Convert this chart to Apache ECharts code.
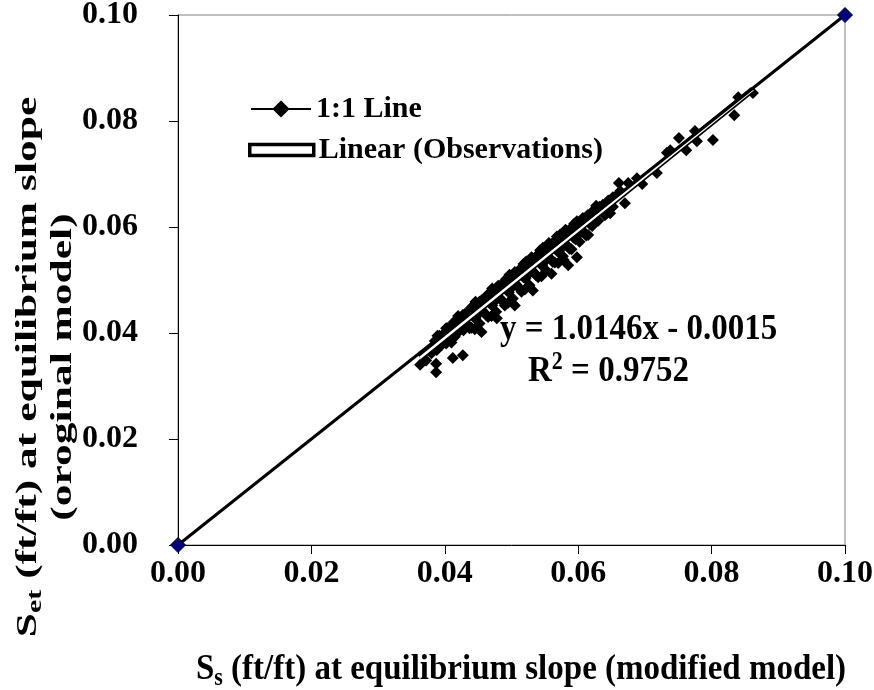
<!DOCTYPE html>
<html><head><meta charset="utf-8">
<script src="https://cdn.jsdelivr.net/npm/echarts@6/dist/echarts.min.js"></script>
<style>html,body{margin:0;padding:0;background:#fff}#c{width:874px;height:690px}</style>
</head><body><div id="c"></div>
<script>
// Observations: [S_s modified model, S_et original model]
const observations = [
  // upper band
  [0.0385,0.0385],[0.0392,0.0395],[0.0398,0.0398],[0.0405,0.0410],[0.0410,0.0412],[0.0417,0.0421],
  [0.0423,0.0424],[0.0430,0.0436],[0.0436,0.0438],[0.0442,0.0450],[0.0448,0.0452],[0.0455,0.0462],
  [0.0460,0.0465],[0.0467,0.0475],[0.0473,0.0477],[0.0480,0.0489],[0.0486,0.0490],[0.0492,0.0502],
  [0.0498,0.0503],[0.0505,0.0515],[0.0511,0.0516],[0.0518,0.0530],[0.0524,0.0530],[0.0530,0.0543],
  [0.0536,0.0543],[0.0543,0.0556],[0.0549,0.0557],[0.0556,0.0570],[0.0562,0.0569],[0.0568,0.0582],
  [0.0575,0.0584],[0.0581,0.0595],[0.0588,0.0596],[0.0594,0.0606],[0.0600,0.0608],[0.0607,0.0617],
  [0.0614,0.0620],[0.0620,0.0628],
  [0.0401,0.0401],[0.0414,0.0415],[0.0427,0.0428],[0.0439,0.0441],[0.0452,0.0453],[0.0464,0.0466],
  [0.0477,0.0479],[0.0489,0.0491],[0.0502,0.0504],[0.0514,0.0516],[0.0527,0.0529],[0.0540,0.0542],
  [0.0552,0.0554],[0.0565,0.0567],[0.0578,0.0580],[0.0591,0.0593],[0.0604,0.0605],[0.0617,0.0617],
  [0.0389,0.0395],[0.0402,0.0409],[0.0414,0.0421],[0.0427,0.0434],[0.0439,0.0447],[0.0452,0.0459],
  [0.0464,0.0472],[0.0477,0.0484],[0.0489,0.0497],[0.0502,0.0509],[0.0514,0.0522],[0.0527,0.0535],
  [0.0539,0.0547],[0.0552,0.0560],[0.0564,0.0573],[0.0577,0.0585],[0.0589,0.0597],[0.0602,0.0610],
  [0.0614,0.0622],
  [0.0420,0.0432],[0.0446,0.0459],[0.0471,0.0484],[0.0497,0.0510],[0.0522,0.0535],[0.0547,0.0561],
  [0.0573,0.0586],[0.0598,0.0611],
  // lower band
  [0.0392,0.0379],[0.0405,0.0392],[0.0418,0.0405],[0.0431,0.0418],[0.0443,0.0430],[0.0456,0.0443],
  [0.0468,0.0455],[0.0481,0.0468],[0.0493,0.0480],[0.0506,0.0493],[0.0518,0.0505],[0.0531,0.0518],
  [0.0543,0.0530],[0.0556,0.0543],[0.0568,0.0555],[0.0581,0.0568],[0.0593,0.0580],[0.0606,0.0593],
  [0.0618,0.0605],
  [0.0380,0.0362],[0.0388,0.0368],[0.0395,0.0377],[0.0402,0.0380],[0.0408,0.0390],[0.0415,0.0393],
  [0.0421,0.0403],[0.0428,0.0405],[0.0434,0.0416],[0.0440,0.0410],[0.0446,0.0428],[0.0452,0.0418],
  [0.0458,0.0440],[0.0465,0.0430],[0.0471,0.0452],[0.0477,0.0440],[0.0483,0.0465],[0.0490,0.0452],
  [0.0496,0.0477],[0.0502,0.0465],[0.0508,0.0490],[0.0515,0.0478],[0.0521,0.0503],[0.0527,0.0490],
  [0.0533,0.0515],[0.0540,0.0505],[0.0546,0.0528],[0.0552,0.0518],[0.0558,0.0540],[0.0565,0.0533],
  [0.0571,0.0553],[0.0577,0.0545],[0.0583,0.0565],[0.0590,0.0558],[0.0596,0.0577],[0.0602,0.0572],
  [0.0609,0.0590],[0.0615,0.0585],[0.0621,0.0602],
  [0.0398,0.0383],[0.0424,0.0409],[0.0449,0.0434],[0.0474,0.0459],[0.0499,0.0484],[0.0524,0.0509],
  [0.0549,0.0534],[0.0574,0.0559],[0.0599,0.0584],
  [0.0410,0.0382],[0.0437,0.0409],[0.0462,0.0434],[0.0487,0.0459],[0.0512,0.0484],[0.0537,0.0509],
  [0.0562,0.0534],[0.0587,0.0559],[0.0612,0.0584],
  [0.0445,0.0407],[0.0470,0.0432],[0.0495,0.0457],[0.0520,0.0482],[0.0545,0.0507],[0.0570,0.0532],
  // low outliers
  [0.0363,0.0340],[0.0372,0.0348],[0.0387,0.0342],[0.0387,0.0326],[0.0412,0.0353],[0.0427,0.0358],
  [0.0455,0.0402],[0.0478,0.0428],[0.0505,0.0452],[0.0532,0.0480],[0.0560,0.0512],[0.0578,0.0538],
  [0.0598,0.0543],[0.0585,0.0528],
  // upper-right tail
  [0.0626,0.0634],[0.0627,0.0640],[0.0632,0.0638],[0.0630,0.0612],[0.0637,0.0642],[0.0640,0.0622],
  [0.0643,0.0626],[0.0645,0.0650],[0.0648,0.0626],[0.0652,0.0638],[0.0652,0.0656],[0.0658,0.0660],
  [0.0661,0.0683],[0.0663,0.0668],[0.0670,0.0645],[0.0675,0.0683],[0.0688,0.0692],[0.0696,0.0681],
  [0.0718,0.0702],[0.0733,0.0740],[0.0738,0.0745],[0.0751,0.0768],[0.0762,0.0745],[0.0775,0.0781],
  [0.0778,0.0762],[0.0802,0.0764],[0.0834,0.0811],[0.0840,0.0845],[0.0862,0.0853]
];
const oneToOne = [[0, 0], [0.1, 0.1]];
const trendSlope = 1.0146;
const trendIntercept = -0.0015;
const trendXRange = [0.0363, 0.0862];
const axisRange = [0, 0.1];
const axisStep = 0.02;

const trendLine = trendXRange.map(x => [x, trendSlope * x + trendIntercept]);
const FONT = '"Liberation Serif","Times New Roman",serif';
const fmt = v => v.toFixed(2);

const chart = echarts.init(document.getElementById('c'), null, {renderer: 'canvas'});
const tok = (size, extra) => Object.assign({fontSize: size, fontFamily: FONT, fontWeight: 'bold', fill: '#000', color: '#000'}, extra || {});

const axisCommon = {
  type: 'value', min: axisRange[0], max: axisRange[1], interval: axisStep,
  axisLine: {show: true, onZero: false, lineStyle: {color: '#000', width: 1}},
  axisTick: {show: true, inside: false, length: 9, lineStyle: {color: '#000', width: 1}},
  splitLine: {show: false},
  axisLabel: {formatter: fmt, fontFamily: FONT, fontWeight: 'bold', fontSize: 32, color: '#000'}
};

chart.setOption({
  animation: false,
  backgroundColor: '#fff',
  grid: {left: 178, right: 29, top: 15, bottom: 145, show: true, borderColor: '#808080', borderWidth: 1, containLabel: false, outerBoundsMode: 'none'},
  xAxis: Object.assign({}, axisCommon, {axisLabel: Object.assign({}, axisCommon.axisLabel, {margin: 13})}),
  yAxis: Object.assign({}, axisCommon, {axisLabel: Object.assign({}, axisCommon.axisLabel, {margin: 40})}),
  legend: [
    {left: 250, top: 94, padding: 0, itemWidth: 60, itemHeight: 18, selectedMode: false,
     data: [{name: '1:1 Line', itemStyle: {color: '#000', borderColor: '#000'}}],
     textStyle: {fontFamily: FONT, fontWeight: 'bold', fontSize: 30, color: '#000'}},
    {left: 248, top: 135, padding: 0, itemWidth: 64, itemHeight: 11, selectedMode: false,
     data: [{name: 'Linear (Observations)', icon: 'rect', itemStyle: {color: '#fff', borderColor: '#000', borderWidth: 3.5}}],
     textStyle: {fontFamily: FONT, fontWeight: 'bold', fontSize: 30, color: '#000'}}
  ],
  series: [
    {type: 'scatter', name: 'Observations', data: observations, symbol: 'diamond', symbolSize: 12,
     itemStyle: {color: '#000', opacity: 1}, z: 2, silent: true},
    {type: 'line', name: 'Linear (Observations)', data: trendLine, symbol: 'none',
     lineStyle: {color: '#000', width: 6}, z: 3, silent: true},
    {type: 'line', name: 'trendInner', data: trendLine, symbol: 'none',
     lineStyle: {color: '#fff', width: 2.5}, z: 4, silent: true},
    {type: 'line', name: '1:1 Line', data: oneToOne, symbol: 'diamond', symbolSize: 15, clip: false,
     itemStyle: {color: '#000080', borderColor: '#000', borderWidth: 1},
     lineStyle: {color: '#000', width: 3}, z: 5, silent: true}
  ],
  graphic: [
    {type: 'text', x: 46, y: 367, rotation: Math.PI / 2, scaleX: 1.5, silent: true,
     style: {text: '{m|S}{sub|et}{m| (ft/ft) at equilibrium slope}\n{m|(oroginal model)}',
       align: 'center', verticalAlign: 'middle', fill: '#000',
       rich: {m: tok(29, {lineHeight: 35}), sub: tok(20, {lineHeight: 20, verticalAlign: 'bottom'})}}},
    {type: 'text', x: 521, y: 670, scaleY: 1.1, silent: true,
     style: {text: '{m|S}{sub|s}{m| (ft/ft) at equilibrium slope (modified model)}',
       align: 'center', verticalAlign: 'middle', fill: '#000',
       rich: {m: tok(33, {lineHeight: 38}), sub: tok(22, {lineHeight: 22, verticalAlign: 'bottom'})}}},
    {type: 'text', x: 500, y: 330, scaleY: 1.1, silent: true,
     style: {text: '{m|y = 1.0146x - 0.0015}', align: 'left', verticalAlign: 'middle', fill: '#000',
       rich: {m: tok(33, {lineHeight: 38})}}},
    {type: 'text', x: 528, y: 372, scaleY: 1.1, silent: true,
     style: {text: '{m|R}{sup|2}{m| = 0.9752}', align: 'left', verticalAlign: 'middle', fill: '#000',
       rich: {m: tok(33, {lineHeight: 38}), sup: tok(22, {lineHeight: 22, verticalAlign: 'top'})}}}
  ]
});
</script></body></html>
